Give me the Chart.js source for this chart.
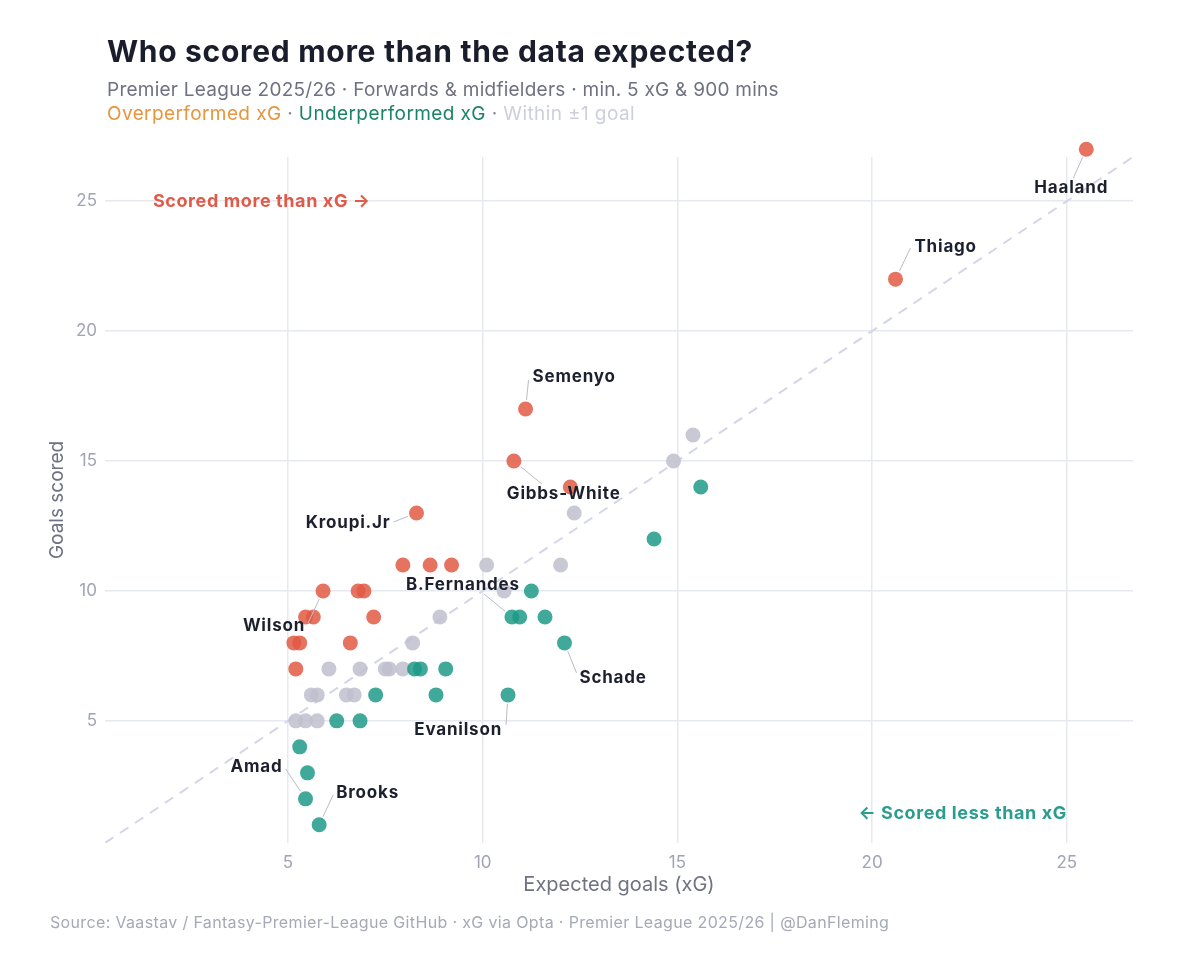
<!DOCTYPE html>
<html>
<head>
<meta charset="utf-8">
<script src="https://cdn.jsdelivr.net/npm/chart.js@4.4.1/dist/chart.umd.min.js"></script>
<style>
  html, body { margin: 0; padding: 0; background: #fff; }
  #wrap { width: 1200px; height: 960px; position: relative; }
</style>
</head>
<body>
<div id="wrap"><canvas id="xg_chart"></canvas></div>
<script>
// players (only the annotated ones carry a name)
const player_names = [
  "Haaland", "Thiago", "Semenyo", "Gibbs-White", "", "Kroupi.Jr", "", "", "",
  "Wilson", "", "", "", "", "", "", "", "", "",
  "", "", "", "", "", "", "", "", "", "", "", "", "", "", "", "", "", "", "", "",
  "", "", "", "B.Fernandes", "", "", "Schade", "", "", "", "", "", "Evanilson",
  "", "", "", "", "Amad", "Brooks"
];
const xg_values = [
  25.5, 20.6, 11.1, 10.8, 12.25, 8.3, 7.95, 8.65, 9.2,
  5.9, 6.8, 6.95, 5.45, 5.65, 7.2, 5.15, 5.3, 6.6, 5.2,
  15.4, 14.9, 12.35, 12.0, 10.1, 10.55, 8.9, 8.2, 6.05, 6.85, 7.5, 7.6, 7.95, 5.6, 5.75, 6.5, 6.7, 5.2, 5.45, 5.75,
  15.6, 14.4, 11.25, 10.75, 10.95, 11.6, 12.1, 8.25, 8.4, 9.05, 7.25, 8.8, 10.65,
  6.25, 6.85, 5.3, 5.5, 5.45, 5.8
];
const goal_values = [
  27, 22, 17, 15, 14, 13, 11, 11, 11,
  10, 10, 10, 9, 9, 9, 8, 8, 8, 7,
  16, 15, 13, 11, 11, 10, 9, 8, 7, 7, 7, 7, 7, 6, 6, 6, 6, 5, 5, 5,
  14, 12, 10, 9, 9, 9, 8, 7, 7, 7, 6, 6, 6,
  5, 5, 4, 3, 2, 1
];
const axis_ticks = [5, 10, 15, 20, 25];
const axis_min = 0.3;
const axis_max = 26.7;

const FONT = "Inter, 'Noto Sans', sans-serif";
const col_over = "rgba(224,90,68,0.85)";
const col_under = "rgba(31,154,136,0.85)";
const col_within = "rgba(191,192,207,0.85)";

// where each name sits relative to its dot (px)
const label_spots = {
  "Haaland":     { dx: -15, dy: 39, align: "center", lx: -13, ly: 29 },
  "Thiago":      { dx: 19, dy: -32, align: "left", lx: 15, ly: -31 },
  "Semenyo":     { dx: 7, dy: -32, align: "left", lx: 3, ly: -29 },
  "Gibbs-White": { dx: -7, dy: 33, align: "left", lx: 28, ly: 23 },
  "Kroupi.Jr":   { dx: -26, dy: 10, align: "right", lx: -23, ly: 9 },
  "B.Fernandes": { dx: -49, dy: -32, align: "center", lx: -28, ly: -23 },
  "Wilson":      { dx: -18, dy: 35, align: "right", lx: -15, ly: 32 },
  "Schade":      { dx: 15, dy: 35, align: "left", lx: 12, ly: 30 },
  "Evanilson":   { dx: -6, dy: 35, align: "right", lx: -2, ly: 30 },
  "Amad":        { dx: -23, dy: -32, align: "right", lx: -20, ly: -30 },
  "Brooks":      { dx: 17, dy: -32, align: "left", lx: 14, ly: -30 }
};

let over_pts = [], under_pts = [], within_pts = [];
for (let i = 0; i < xg_values.length; i++) {
  const p = { x: xg_values[i], y: goal_values[i], name: player_names[i] };
  const diff = goal_values[i] - xg_values[i];
  if (diff > 1) over_pts.push(p);
  else if (diff < -1) under_pts.push(p);
  else within_pts.push(p);
}

const textPlugin = {
  id: "xgText",
  beforeDatasetsDraw(chart) {
    // Haaland sits above the panel; let points draw past the top edge
    chart._realTop = chart.chartArea.top;
    chart.chartArea.top -= 20;
  },
  afterDatasetsDraw(chart) {
    chart.chartArea.top = chart._realTop;
    const ctx = chart.ctx;
    const xs = chart.scales.x, ys = chart.scales.y;
    ctx.save();
    // name labels + leader lines
    for (let i = 0; i < player_names.length; i++) {
      const spot = label_spots[player_names[i]];
      if (!spot) continue;
      const px = xs.getPixelForValue(xg_values[i]);
      const py = ys.getPixelForValue(goal_values[i]);
      const len = Math.hypot(spot.lx, spot.ly);
      ctx.beginPath();
      ctx.strokeStyle = "#b9bbc7";
      ctx.lineWidth = 1;
      ctx.moveTo(px + spot.lx / len * 9, py + spot.ly / len * 9);
      ctx.lineTo(px + spot.lx, py + spot.ly);
      ctx.stroke();
      ctx.font = "bold 17px " + FONT;
      ctx.letterSpacing = "0.8px";
      ctx.fillStyle = "#1c1f2e";
      ctx.textAlign = spot.align;
      ctx.textBaseline = "middle";
      ctx.fillText(player_names[i], px + spot.dx, py + spot.dy);
    }
    // region notes
    ctx.font = "bold 18px " + FONT;
    ctx.letterSpacing = "0.6px";
    ctx.textBaseline = "middle";
    ctx.fillStyle = "#e05a47";
    ctx.textAlign = "left";
    ctx.fillText("Scored more than xG \u2192", xs.getPixelForValue(1.53), ys.getPixelForValue(25));
    ctx.fillStyle = "#2a9d8f";
    ctx.textAlign = "right";
    ctx.fillText("\u2190 Scored less than xG", xs.getPixelForValue(25), ys.getPixelForValue(1.42));
    ctx.restore();
  },
  afterDraw(chart) {
    const ctx = chart.ctx;
    ctx.save();
    ctx.textAlign = "left";
    ctx.textBaseline = "alphabetic";
    ctx.fillStyle = "#1a1d2c";
    ctx.font = "bold 30px " + FONT;
    ctx.letterSpacing = "0.7px";
    ctx.fillText("Who scored more than the data expected?", 107, 62);
    ctx.fillStyle = "#6e7182";
    ctx.font = "19px " + FONT;
    ctx.letterSpacing = "0.25px";
    ctx.fillText("Premier League 2025/26 \u00b7 Forwards & midfielders \u00b7 min. 5 xG & 900 mins", 107, 96);
    // colour key line
    const parts = [
      ["Overperformed xG", "#e8953d"], [" \u00b7 ", "#8a8d9c"],
      ["Underperformed xG", "#1b8466"], [" \u00b7 ", "#8a8d9c"],
      ["Within \u00b11 goal", "#cdd0dc"]
    ];
    ctx.letterSpacing = "0.4px";
    let x = 107;
    for (const [txt, c] of parts) {
      ctx.fillStyle = c;
      ctx.fillText(txt, x, 120);
      x += ctx.measureText(txt).width;
    }
    ctx.fillStyle = "#a6a9b6";
    ctx.font = "16px " + FONT;
    ctx.letterSpacing = "0.35px";
    ctx.fillText("Source: Vaastav / Fantasy-Premier-League GitHub \u00b7 xG via Opta \u00b7 Premier League 2025/26 | @DanFleming", 50, 928);
    ctx.restore();
  }
};

const axisTicks = (scale) => { scale.ticks = axis_ticks.map(v => ({ value: v })); };

const config = {
  type: "scatter",
  data: {
    datasets: [
      {
        type: "line",
        label: "y = x",
        data: [{ x: axis_min, y: axis_min }, { x: axis_max, y: axis_max }],
        borderColor: "#d3d5e8",
        borderWidth: 2,
        borderDash: [10, 8],
        pointRadius: 0,
        fill: false,
        order: 3
      },
      { label: "Within", data: within_pts, backgroundColor: col_within, borderWidth: 0, pointRadius: 7.5, clip: false, order: 2 },
      { label: "Under", data: under_pts, backgroundColor: col_under, borderWidth: 0, pointRadius: 7.5, clip: false, order: 1 },
      { label: "Over", data: over_pts, backgroundColor: col_over, borderWidth: 0, pointRadius: 7.5, clip: false, order: 0 }
    ]
  },
  options: {
    responsive: true,
    maintainAspectRatio: false,
    animation: false,
    layout: { padding: { left: 0, right: 67, top: 157, bottom: 57 } },
    plugins: { legend: { display: false }, tooltip: { enabled: false } },
    scales: {
      x: {
        type: "linear",
        min: axis_min,
        max: axis_max,
        afterBuildTicks: axisTicks,
        afterFit: (s) => { s.height = 60; },
        border: { display: false },
        grid: { color: "#e7e9f1", lineWidth: 1.5, drawTicks: false },
        ticks: { color: "#a0a4b4", font: { family: FONT, size: 17 }, padding: 10 },
        title: { display: true, text: "Expected goals (xG)", color: "#6f7282",
                 font: { family: FONT, size: 20 }, padding: { top: 0, bottom: 6 } }
      },
      y: {
        type: "linear",
        min: axis_min,
        max: axis_max,
        afterBuildTicks: axisTicks,
        afterFit: (s) => { s.width = 105; },
        border: { display: false },
        grid: { color: "#e7e9f1", lineWidth: 1.5, drawTicks: false },
        ticks: { color: "#a0a4b4", font: { family: FONT, size: 17 }, padding: 8 },
        title: { display: true, text: "Goals scored", color: "#6f7282",
                 font: { family: FONT, size: 19 }, padding: { top: 46, bottom: 0 } }
      }
    }
  },
  plugins: [textPlugin]
};

new Chart(document.getElementById("xg_chart"), config);
</script>
</body>
</html>
